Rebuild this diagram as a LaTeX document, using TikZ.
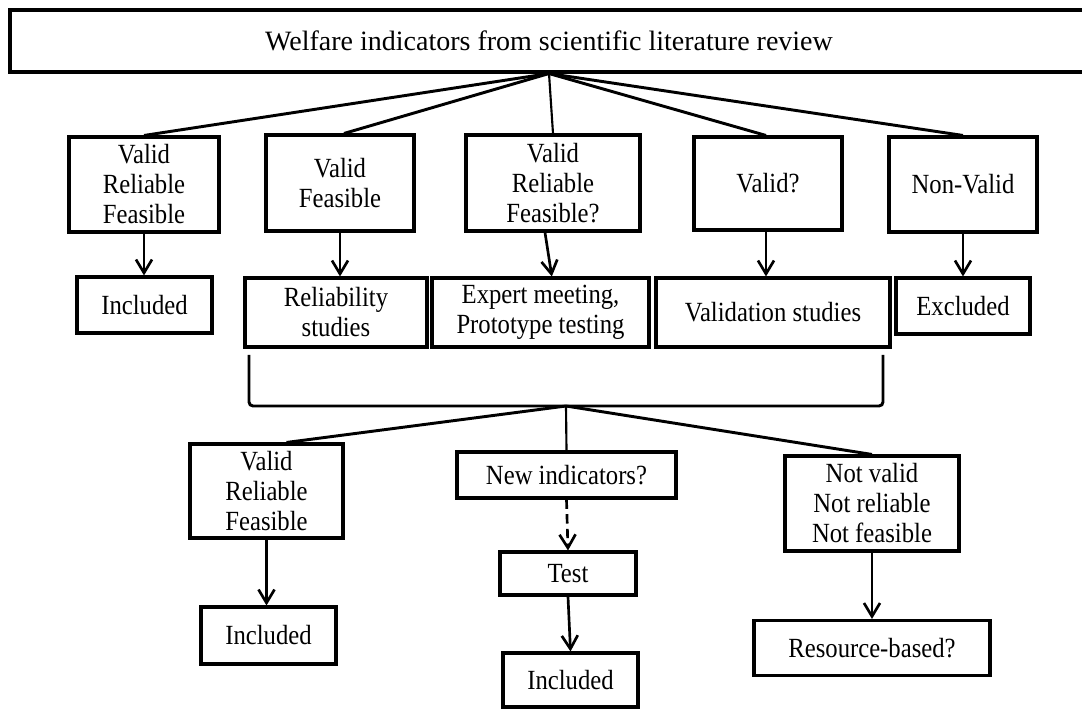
\documentclass[tikz,border=0pt]{standalone}
\usepackage{fontspec}
\setmainfont{Liberation Serif}
\newfontfamily\boxfont[FakeStretch=0.89]{Liberation Serif}
\usetikzlibrary{arrows.meta}

\tikzset{every picture/.style={line width=2.2pt}}
\tikzset{
  box/.style={draw, line width=2.3pt, align=center, inner sep=0pt,
    font=\boxfont\fontsize{20.8}{22.5}\selectfont},
  sz/.style 2 args={minimum width=#1*0.75pt, minimum height=#2*0.75pt},
  arr/.style={line width=2pt, -{Straight Barb[length=10pt,width=12pt]}},
  thin link/.style={line width=1.6pt}
}

\begin{document}
\begin{tikzpicture}[x=0.75pt,y=0.75pt,yscale=-1,xscale=1]
%set diagram to 1082 x 709
\path[use as bounding box, clip] (0,0) rectangle (1082,709);

% Text Node
\node[box, sz={1078}{62}, font=\fontsize{21}{25}\selectfont] (top) at (549,41) {Welfare indicators from scientific literature review};
% Text Node
\node[box, sz={150}{95}] (b1) at (144,184.5) {Valid\\Reliable\\Feasible};
% Text Node
\node[box, sz={148}{96}] (b2) at (340,183) {Valid\\Feasible};
% Text Node
\node[box, sz={174}{96}] (b3) at (553,183) {Valid\\Reliable\\Feasible?};
% Text Node
\node[box, sz={148}{93}] (b4) at (768,183.5) {Valid?};
% Text Node
\node[box, sz={148}{95}] (b5) at (963,184.5) {Non-Valid};
% Text Node
\node[box, sz={135}{56}] (c1) at (144.5,305) {Included};
% Text Node
\node[box, sz={182}{69}] (c2) at (336,312.5) {Reliability\\studies};
% Text Node
\node[box, sz={217}{69}] (c3) at (540.5,312.5) {Expert meeting,\\Prototype testing};
% Text Node
\node[box, sz={234}{69}] (c4) at (773,312.5) {Validation studies};
% Text Node
\node[box, sz={134}{56}] (c5) at (963,306) {Excluded};

% Text Node
\node[box, sz={153}{94}] (d1) at (266.5,491) {Valid\\Reliable\\Feasible};
% Text Node
\node[box, sz={219}{46}] (d2) at (566.5,475) {New indicators?};
% Text Node
\node[box, sz={174}{95}] (d3) at (872,503.5) {Not valid\\Not reliable\\Not feasible};
% Text Node
\node[box, sz={135}{57}] (e1) at (268.5,635.5) {Included};
% Text Node
\node[box, sz={136}{43}] (e2) at (568,573.5) {Test};
% Text Node
\node[box, sz={135}{54}] (e3) at (570.5,680) {Included};
% Text Node
\node[box, sz={236}{55}] (e4) at (872,648) {Resource-based?};

% Connection
\draw (top.south) -- (b1.north);
\draw (top.south) -- ([xshift=3pt]b2.north);
\draw[thin link] (top.south) -- (b3.north);
\draw (top.south) -- ([xshift=-1.5pt]b4.north);
\draw (top.south) -- (b5.north);
% Connection
\draw[arr] (b1.south) -- (b1.south |- c1.north);
\draw[arr] (b2.south) -- (b2.south |- c2.north);
\draw[arr] ([xshift=-6pt]b3.south) -- ([xshift=8.5pt]c3.north);
\draw[arr] ([xshift=-1.5pt]b4.south) -- ([xshift=-1.5pt]b4.south |- c4.north);
\draw[arr] (b5.south) -- (c5.north);

% Bracket
\coordinate (brl) at (249,355);
\coordinate (brr) at (883,355);
\coordinate (hub) at (566,406);
\draw[rounded corners=3pt] (brl) |- (hub) -| (brr);

% Connection
\draw (hub) -- ([xshift=15pt]d1.north);
\draw[thin link] (hub) -- (d2.north);
\draw (hub) -- (d3.north);
% Connection
\draw[arr] (d1.south) -- (d1.south |- e1.north);
\draw[arr, dash pattern=on 7pt off 4pt] (d2.south) -- (e2.north);
\draw[arr] (e2.south) -- (e3.north);
\draw[arr] (d3.south) -- (e4.north);

\end{tikzpicture}
\end{document}
